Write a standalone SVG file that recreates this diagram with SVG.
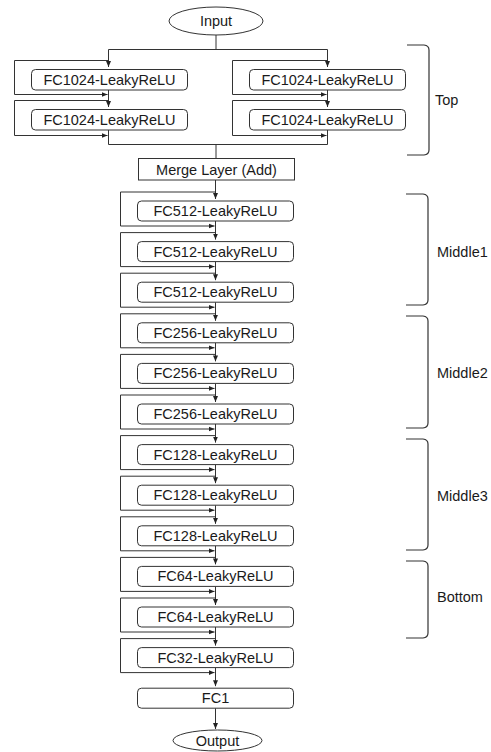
<svg xmlns="http://www.w3.org/2000/svg" width="491" height="752" viewBox="0 0 491 752">
<style>
.n{fill:#fff;stroke:#333;stroke-width:1}
.c{fill:none;stroke:#333;stroke-width:1}
.t{font-family:"Liberation Sans",Arial,sans-serif;font-size:14.5px;fill:#1a1a1a;text-anchor:middle;dominant-baseline:central}
.l{font-family:"Liberation Sans",Arial,sans-serif;font-size:14.5px;fill:#1a1a1a;dominant-baseline:central}
.b{fill:none;stroke:#333;stroke-width:1.2}
</style>
<defs>
<marker id="a" markerUnits="userSpaceOnUse" markerWidth="6" markerHeight="6" viewBox="0 0 6 6" refX="6" refY="3" orient="auto">
<path d="M0,0.5 L6,3 L0,5.5 Z" fill="#222"/>
</marker>
</defs>
<rect width="491" height="752" fill="#fff"/>
<g id="connectors">
<path class="c" d="M216,35 V49.5"/>
<path class="c" d="M108.5,49.5 H327.5"/>
<path class="c" d="M108.5,49.5 V67" marker-end="url(#a)"/>
<path class="c" d="M327.5,49.5 V67" marker-end="url(#a)"/>
<path class="c" d="M108.5,60.5 H14.5 V94.5 H107.5" marker-end="url(#a)"/>
<path class="c" d="M327.5,60.5 H232.5 V94.5 H326.5" marker-end="url(#a)"/>
<path class="c" d="M108.5,90 V107" marker-end="url(#a)"/>
<path class="c" d="M327.5,90 V107" marker-end="url(#a)"/>
<path class="c" d="M108.5,100.5 H14.5 V135.5 H107.5" marker-end="url(#a)"/>
<path class="c" d="M327.5,100.5 H232.5 V135.5 H326.5" marker-end="url(#a)"/>
<path class="c" d="M108.5,130 V144.5 H327.5 V130"/>
<path class="c" d="M216,144.5 V158"/>
<path class="c" d="M215.5,180 V199" marker-end="url(#a)"/>
<path class="c" d="M215.5,221 V239.6" marker-end="url(#a)"/>
<path class="c" d="M215.5,261.6 V280.2" marker-end="url(#a)"/>
<path class="c" d="M215.5,302.2 V320.8" marker-end="url(#a)"/>
<path class="c" d="M215.5,342.8 V361.4" marker-end="url(#a)"/>
<path class="c" d="M215.5,383.4 V402" marker-end="url(#a)"/>
<path class="c" d="M215.5,424 V442.6" marker-end="url(#a)"/>
<path class="c" d="M215.5,464.6 V483.2" marker-end="url(#a)"/>
<path class="c" d="M215.5,505.2 V523.8" marker-end="url(#a)"/>
<path class="c" d="M215.5,545.8 V564.4" marker-end="url(#a)"/>
<path class="c" d="M215.5,586.4 V605" marker-end="url(#a)"/>
<path class="c" d="M215.5,627 V645.6" marker-end="url(#a)"/>
<path class="c" d="M215.5,667.6 V686.2" marker-end="url(#a)"/>
<path class="c" d="M215.5,708.2 V729" marker-end="url(#a)"/>
<path class="c" d="M215.5,192 H120.5 V226 H214.5" marker-end="url(#a)"/>
<path class="c" d="M215.5,232.6 H120.5 V266.6 H214.5" marker-end="url(#a)"/>
<path class="c" d="M215.5,273.2 H120.5 V307.2 H214.5" marker-end="url(#a)"/>
<path class="c" d="M215.5,313.8 H120.5 V347.8 H214.5" marker-end="url(#a)"/>
<path class="c" d="M215.5,354.4 H120.5 V388.4 H214.5" marker-end="url(#a)"/>
<path class="c" d="M215.5,395 H120.5 V429 H214.5" marker-end="url(#a)"/>
<path class="c" d="M215.5,435.6 H120.5 V469.6 H214.5" marker-end="url(#a)"/>
<path class="c" d="M215.5,476.2 H120.5 V510.2 H214.5" marker-end="url(#a)"/>
<path class="c" d="M215.5,516.8 H120.5 V550.8 H214.5" marker-end="url(#a)"/>
<path class="c" d="M215.5,557.4 H120.5 V591.4 H214.5" marker-end="url(#a)"/>
<path class="c" d="M215.5,598 H120.5 V632 H214.5" marker-end="url(#a)"/>
<path class="c" d="M215.5,638.6 H120.5 V672.6 H214.5" marker-end="url(#a)"/>
</g>
<g id="input"><ellipse class="n" cx="216" cy="21" rx="47" ry="14"/><text class="t" x="216" y="21">Input</text></g>
<g id="top-l1"><rect class="n" x="31.5" y="69.5" width="156" height="20.5" rx="4"/><text class="t" x="109.5" y="80">FC1024-LeakyReLU</text></g>
<g id="top-l2"><rect class="n" x="31.5" y="109.5" width="156" height="20.5" rx="4"/><text class="t" x="109.5" y="120">FC1024-LeakyReLU</text></g>
<g id="top-r1"><rect class="n" x="249.5" y="69.5" width="156" height="20.5" rx="4"/><text class="t" x="327.5" y="80">FC1024-LeakyReLU</text></g>
<g id="top-r2"><rect class="n" x="249.5" y="109.5" width="156" height="20.5" rx="4"/><text class="t" x="327.5" y="120">FC1024-LeakyReLU</text></g>
<g id="merge"><rect class="n" x="138.5" y="158.5" width="156" height="21.5"/><text class="t" x="216.5" y="169.5">Merge Layer (Add)</text></g>
<g id="fc512-1"><rect class="n" x="137.5" y="201" width="156" height="20" rx="4"/><text class="t" x="215.5" y="211">FC512-LeakyReLU</text></g>
<g id="fc512-2"><rect class="n" x="137.5" y="241.6" width="156" height="20" rx="4"/><text class="t" x="215.5" y="251.6">FC512-LeakyReLU</text></g>
<g id="fc512-3"><rect class="n" x="137.5" y="282.2" width="156" height="20" rx="4"/><text class="t" x="215.5" y="292.2">FC512-LeakyReLU</text></g>
<g id="fc256-1"><rect class="n" x="137.5" y="322.8" width="156" height="20" rx="4"/><text class="t" x="215.5" y="332.8">FC256-LeakyReLU</text></g>
<g id="fc256-2"><rect class="n" x="137.5" y="363.4" width="156" height="20" rx="4"/><text class="t" x="215.5" y="373.4">FC256-LeakyReLU</text></g>
<g id="fc256-3"><rect class="n" x="137.5" y="404" width="156" height="20" rx="4"/><text class="t" x="215.5" y="414">FC256-LeakyReLU</text></g>
<g id="fc128-1"><rect class="n" x="137.5" y="444.6" width="156" height="20" rx="4"/><text class="t" x="215.5" y="454.6">FC128-LeakyReLU</text></g>
<g id="fc128-2"><rect class="n" x="137.5" y="485.2" width="156" height="20" rx="4"/><text class="t" x="215.5" y="495.2">FC128-LeakyReLU</text></g>
<g id="fc128-3"><rect class="n" x="137.5" y="525.8" width="156" height="20" rx="4"/><text class="t" x="215.5" y="535.8">FC128-LeakyReLU</text></g>
<g id="fc64-1"><rect class="n" x="137.5" y="566.4" width="156" height="20" rx="4"/><text class="t" x="215.5" y="576.4">FC64-LeakyReLU</text></g>
<g id="fc64-2"><rect class="n" x="137.5" y="607" width="156" height="20" rx="4"/><text class="t" x="215.5" y="617">FC64-LeakyReLU</text></g>
<g id="fc32"><rect class="n" x="137.5" y="647.6" width="156" height="20" rx="4"/><text class="t" x="215.5" y="657.6">FC32-LeakyReLU</text></g>
<g id="fc1"><rect class="n" x="137.5" y="688.2" width="156" height="20" rx="4"/><text class="t" x="215.5" y="698.2">FC1</text></g>
<g id="output"><ellipse class="n" cx="217.5" cy="740.5" rx="44.5" ry="10.5"/><text class="t" x="217.5" y="740.5">Output</text></g>
<g id="brace-top"><path class="b" d="M407,45 H424 Q429,45.5 429,50 V150 Q429,154.5 424,155 H407"/><text class="l" x="435" y="100">Top</text></g>
<g id="brace-middle1"><path class="b" d="M406,194 H423 Q428,194.5 428,199 V300 Q428,304.5 423,305 H406"/><text class="l" x="437" y="252">Middle1</text></g>
<g id="brace-middle2"><path class="b" d="M406,316 H423 Q428,316.5 428,321 V423 Q428,427.5 423,428 H406"/><text class="l" x="437" y="373">Middle2</text></g>
<g id="brace-middle3"><path class="b" d="M406,439 H423 Q428,439.5 428,444 V545 Q428,549.5 423,550 H406"/><text class="l" x="437" y="496">Middle3</text></g>
<g id="brace-bottom"><path class="b" d="M406,561 H423 Q428,561.5 428,566 V633 Q428,637.5 423,638 H406"/><text class="l" x="437" y="597">Bottom</text></g>
</svg>
